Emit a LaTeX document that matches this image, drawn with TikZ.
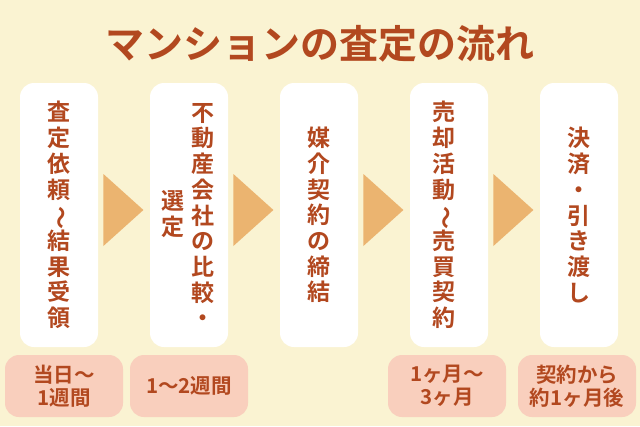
\documentclass[tikz,border=0pt]{standalone}
\usepackage{fontspec}
\setmainfont{Noto Sans CJK JP}[BoldFont={Noto Sans CJK JP Bold}]
\usetikzlibrary{positioning}
\usetikzlibrary{shapes.geometric}
\definecolor{Cream}{HTML}{FAF3D2}
\definecolor{Rust}{HTML}{B2481F}
\definecolor{Blush}{HTML}{F9CFBD}
\definecolor{Amber}{HTML}{EBB470}
\newcommand{\tategaki}{\rotatebox[origin=c]{-90}{〜}}

\begin{document}
\begin{tikzpicture}[
  x=1pt, y=-1pt,
  node distance=130pt,
  on grid,
  stepbox/.style={fill=white, rounded corners=14pt, minimum width=78pt,
    minimum height=264pt, inner sep=0pt},
  stepword/.style={text=Rust, align=center, inner sep=0pt,
    font=\bfseries\fontsize{23}{25.7}\selectfont},
  spanbox/.style={fill=Blush, rounded corners=14pt, minimum width=118pt,
    minimum height=62pt, inner sep=0pt, text=Rust, align=center,
    font=\bfseries\fontsize{20.5}{23}\selectfont},
  pointer/.style={isosceles triangle, isosceles triangle stretches,
    fill=Amber, minimum width=72pt, minimum height=40pt, inner sep=0pt,
    anchor=west},
  ]

\fill [Cream] (0,0) rectangle (640,426);

\node [text=Rust, font=\bfseries\fontsize{39}{44}\selectfont] (title) at (320,44) {マンションの査定の流れ};

% steps
\node [stepbox] (s1) at (59,215) {};
\node [stepbox] (s2) [right=of s1] {};
\node [stepbox] (s3) [right=of s2] {};
\node [stepbox] (s4) [right=of s3] {};
\node [stepbox] (s5) [right=of s4] {};

\node [stepword] (t1) at (s1) {査\\定\\依\\頼\\\tategaki\\結\\果\\受\\領};
\node [stepword] (t2a) at ([xshift=14pt]s2) {不\\動\\産\\会\\社\\の\\比\\較\\・};
\node [stepword] (t2b) at ([xshift=-16pt,yshift=1pt]s2) {選\\定};
\node [stepword] (t3) at (s3) {媒\\介\\契\\約\\の\\締\\結};
\node [stepword] (t4) at ([xshift=-5pt]s4) {売\\却\\活\\動\\\tategaki\\売\\買\\契\\約};
\node [stepword] (t5) at (s5) {決\\済\\・\\引\\き\\渡\\し};

% arrows
\node [pointer] (p1) at ([xshift=5pt,yshift=5pt]s1.east) {};
\node [pointer] (p2) at ([xshift=5pt,yshift=5pt]s2.east) {};
\node [pointer] (p3) at ([xshift=5pt,yshift=5pt]s3.east) {};
\node [pointer] (p4) at ([xshift=5pt,yshift=5pt]s4.east) {};

% durations
\node [spanbox] (d1) [below=171pt of s1, xshift=5pt] {当日〜\\1週間};
\node [spanbox] (d2) [below=171pt of s2] {1〜2週間};
\node [spanbox] (d4) [below=171pt of s4, xshift=-2pt] {1ヶ月〜\\3ヶ月};
\node [spanbox] (d5) [below=171pt of s5, xshift=-2pt] {契約から\\約1ヶ月後};
\end{tikzpicture}
\end{document}
